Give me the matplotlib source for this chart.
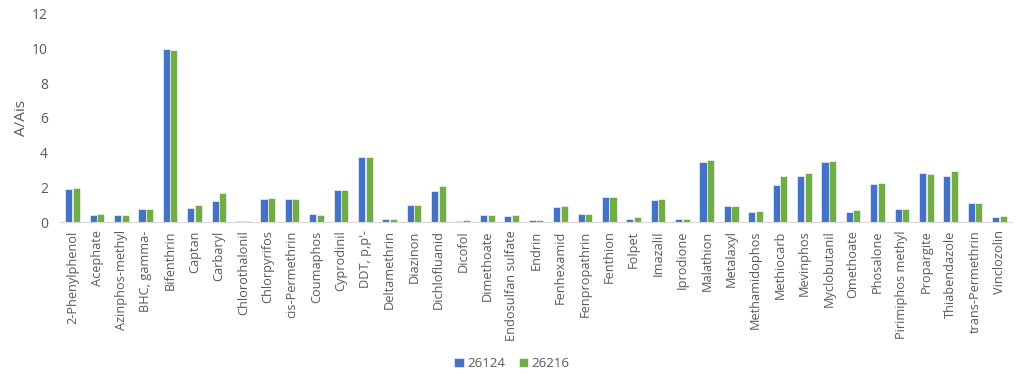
import numpy as np
import matplotlib
matplotlib.use('Agg')
import matplotlib.pyplot as plt

# A/Ais ratios
compounds = ['2-Phenylphenol', 'Acephate', 'Azinphos-methyl', 'BHC, gamma-', 'Bifenthrin',
             'Captan', 'Carbaryl', 'Chlorothalonil', 'Chlorpyrifos', 'cis-Permethrin',
             'Coumaphos', 'Cyprodinil', "DDT, p,p'-", 'Deltamethrin', 'Diazinon',
             'Dichlofluanid', 'Dicofol', 'Dimethoate', 'Endosulfan sulfate', 'Endrin',
             'Fenhexamid', 'Fenpropathrin', 'Fenthion', 'Folpet', 'Imazalil',
             'Iprodione', 'Malathion', 'Metalaxyl', 'Methamidophos', 'Methiocarb',
             'Mevinphos', 'Myclobutanil', 'Omethoate', 'Phosalone', 'Pirimiphos methyl',
             'Propargite', 'Thiabendazole', 'trans-Permethrin', 'Vinclozolin']
s26124 = [1.89, 0.39, 0.39, 0.73, 10.0, 0.83, 1.24, 0.05, 1.35, 1.35,
          0.46, 1.83, 3.73, 0.19, 0.98, 1.78, 0.08, 0.42, 0.37, 0.15,
          0.89, 0.46, 1.43, 0.21, 1.29, 0.19, 3.46, 0.95, 0.56, 2.12,
          2.66, 3.46, 0.60, 2.20, 0.73, 2.82, 2.66, 1.08, 0.31]
s26216 = [1.97, 0.48, 0.39, 0.77, 9.9, 0.97, 1.66, 0.05, 1.39, 1.31,
          0.42, 1.87, 3.76, 0.21, 0.98, 2.08, 0.10, 0.42, 0.39, 0.15,
          0.95, 0.46, 1.43, 0.27, 1.31, 0.21, 3.59, 0.95, 0.64, 2.66,
          2.82, 3.51, 0.68, 2.24, 0.73, 2.78, 2.92, 1.08, 0.35]

plt.rcParams['font.family'] = ['Open Sans', 'DejaVu Sans']
grey = '#595959'

fig = plt.figure(figsize=(10.24, 3.74), dpi=100)
ax = fig.add_axes([0.059, 0.406, 0.929, 0.557])

x = np.arange(len(compounds))
w = 0.29
ax.bar(x - w/2 - 0.01, s26124, w, color='#4472C4', edgecolor='white', linewidth=0.4, label='26124')
ax.bar(x + w/2 + 0.01, s26216, w, color='#70AD47', edgecolor='white', linewidth=0.4, label='26216')

ax.set_xlim(-0.5, len(compounds) - 0.5)
ax.set_ylim(0, 12)
ax.set_yticks(range(0, 13, 2))
ax.set_xticks(x)
ax.set_xticklabels(compounds, rotation=90, fontsize=9.2, color=grey)
ax.tick_params(axis='y', labelsize=10, colors=grey, length=0, pad=9)
ax.tick_params(axis='x', length=0, pad=6)
ax.set_ylabel('A/Ais', fontsize=11, color=grey, labelpad=2)

for side in ['top', 'right', 'left']:
    ax.spines[side].set_visible(False)
ax.spines['bottom'].set_color('#D9D9D9')

fig.legend(loc='lower center', bbox_to_anchor=(0.5, -0.022), ncol=2, frameon=False,
           fontsize=9.5, handlelength=0.7, handleheight=0.7, columnspacing=1.0,
           handletextpad=0.3, labelcolor=grey)

plt.savefig('out.png', dpi=100)
